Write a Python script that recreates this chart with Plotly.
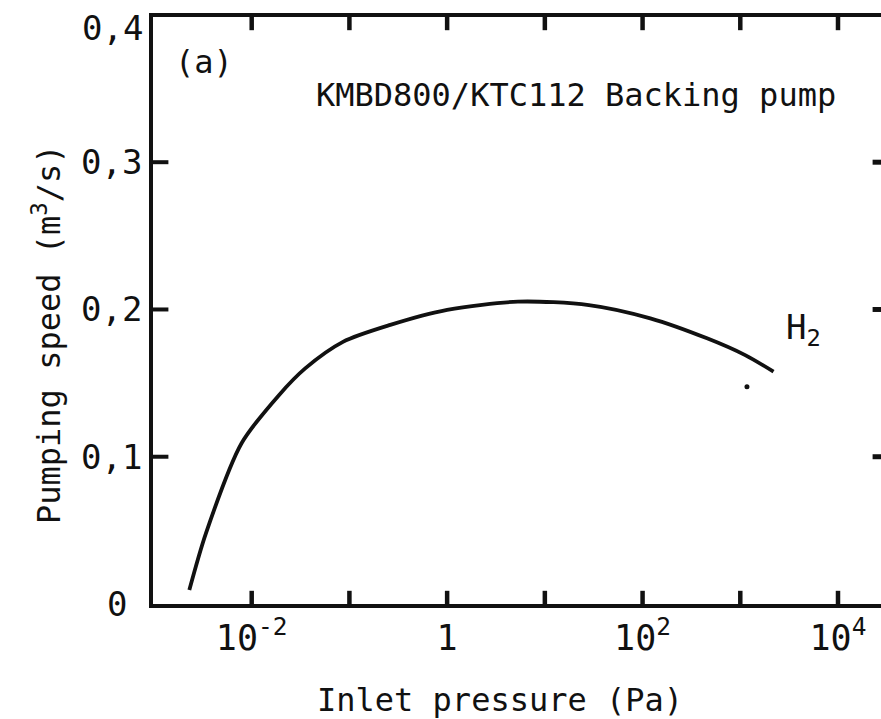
import plotly.graph_objects as go

# H2 pumping speed of the KMBD800/KTC112 pump set versus inlet pressure
pressure_pa = [0.0023, 0.0034, 0.00785, 0.0191, 0.0353, 0.0859, 0.262,
               1.0, 5.3, 28.2, 120, 457, 1122, 2188]
speed_m3s = [0.0095, 0.048, 0.109, 0.142, 0.160, 0.178, 0.1895,
             0.1997, 0.2053, 0.203, 0.194, 0.1804, 0.169, 0.1578]

# isolated measured point below the end of the curve
point_pa = [1170]
point_speed = [0.1476]

# axis ticks
x_tick_vals = [1e-2, 1e-1, 1, 1e1, 1e2, 1e3, 1e4]
x_tick_text = ["10<sup>-2</sup>", "", "1", "", "10<sup>2</sup>", "", "10<sup>4</sup>"]
y_tick_vals = [0, 0.1, 0.2, 0.3, 0.4]
y_tick_text = ["0", "0,1", "0,2", "0,3", "0,4"]

FONT = "DejaVu Sans Mono"
INK = "#111111"
X_RANGE = [-3.01, 4.44]          # log10 of the pressure limits
Y_RANGE = [0, 0.3986]
PLOT_H = 719 - 17 - 115          # height of the plotting area in px
TICK_PX = 11                     # length of the bottom/top tick marks

fig = go.Figure()
fig.add_trace(go.Scatter(
    x=pressure_pa, y=speed_m3s, mode="lines",
    line=dict(color=INK, width=3.8, shape="spline", smoothing=0.8),
    showlegend=False, hoverinfo="skip",
))
fig.add_trace(go.Scatter(
    x=point_pa, y=point_speed, mode="markers",
    marker=dict(color=INK, size=5),
    showlegend=False, hoverinfo="skip",
))

# inward tick marks on the bottom and top edges: vertical line markers whose
# centres sit half a tick length inside the frame
half_dy = TICK_PX / 2 / PLOT_H * (Y_RANGE[1] - Y_RANGE[0])
for y_mid in (Y_RANGE[0] + half_dy, Y_RANGE[1] - half_dy):
    fig.add_trace(go.Scatter(
        x=x_tick_vals, y=[y_mid] * len(x_tick_vals), mode="markers",
        cliponaxis=False,
        marker=dict(symbol="line-ns", size=TICK_PX, color=INK,
                    line=dict(width=4.5, color=INK)),
        showlegend=False, hoverinfo="skip",
    ))

# inward tick marks on the left and right edges: line markers centred on
# the frame edge, the outer half is clipped away by the plotting area
x_lo, x_hi = 10 ** X_RANGE[0], 10 ** X_RANGE[1]
inner_y = y_tick_vals[1:4]
for tx, size, width in (([x_lo] * len(inner_y), 22, 4),
                        ([x_hi] * len(inner_y), 12, 5)):
    fig.add_trace(go.Scatter(
        x=tx, y=inner_y, mode="markers", cliponaxis=True,
        marker=dict(symbol="line-ew", size=size, color=INK,
                    line=dict(width=width, color=INK)),
        showlegend=False, hoverinfo="skip",
    ))

fig.update_layout(
    width=881, height=719,
    margin=dict(l=153, r=0, t=17, b=115),
    paper_bgcolor="white", plot_bgcolor="white",
    font=dict(family=FONT, color=INK, size=32),
    xaxis=dict(
        type="log", range=X_RANGE,
        tickvals=x_tick_vals, ticktext=x_tick_text, ticks="",
        showline=True, linewidth=4, linecolor=INK, mirror=True,
        showgrid=False, zeroline=False,
        tickfont=dict(family=FONT, size=35, color=INK),
    ),
    yaxis=dict(
        range=Y_RANGE,
        tickvals=y_tick_vals[1:4], ticktext=y_tick_text[1:4], ticks="",
        showline=True, linewidth=3.5, linecolor=INK,
        showgrid=False, zeroline=False,
        tickfont=dict(family=FONT, size=34, color=INK),
    ),
)

annotations = [
    dict(text=y_tick_text[0], x=-0.0495, xref="paper", y=y_tick_vals[0], yref="y",
         xanchor="center", yanchor="middle", showarrow=False,
         font=dict(size=34)),
    dict(text=y_tick_text[4], x=0, xref="paper", xshift=-8,
         y=0.981, yref="paper",
         xanchor="right", yanchor="middle", showarrow=False,
         font=dict(size=34)),
    dict(text="(a)", x=0.070, y=0.923, xref="paper", yref="paper",
         xanchor="center", yanchor="middle", showarrow=False),
    dict(text="KMBD800/KTC112 Backing pump", x=0.581, y=0.867,
         xref="paper", yref="paper", xanchor="center", yanchor="middle",
         showarrow=False),
    dict(text="H<sub>2</sub>", x=0.8668, y=0.4668, xref="paper", yref="paper",
         xanchor="left", yanchor="middle", showarrow=False,
         font=dict(size=34)),
    dict(text="Inlet pressure (Pa)", x=0.4766, y=-0.1635,
         xref="paper", yref="paper", xanchor="center", yanchor="middle",
         showarrow=False),
    dict(text="Pumping speed (m<sup>3</sup>/s)", x=-0.1456, y=0.46,
         xref="paper", yref="paper", xanchor="center", yanchor="middle",
         textangle=-90, showarrow=False),
]
fig.update_layout(annotations=annotations)

fig.write_html("out.html")
